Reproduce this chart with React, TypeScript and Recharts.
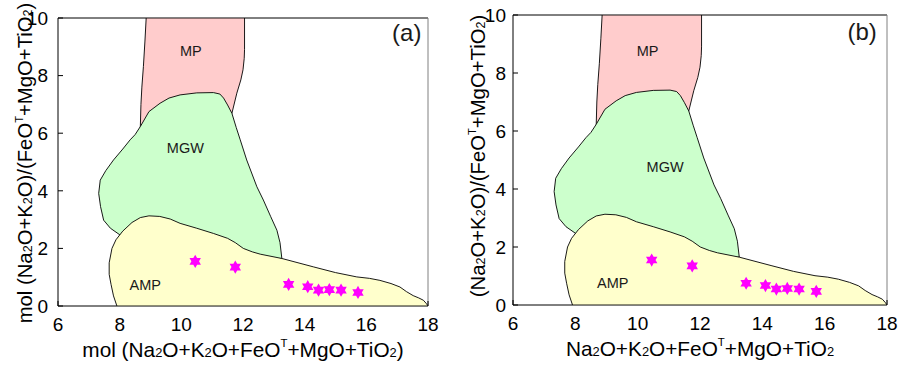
import React from 'react';
import { ScatterChart, Scatter, XAxis, YAxis, ReferenceLine } from 'recharts';

const xTicks = [6, 8, 10, 12, 14, 16, 18];
const yTicks = [0, 2, 4, 6, 8, 10];

// field outlines (x = oxide sum, y = alkali ratio)
const mpField = [
  { x: 8.86, y: 10 }, { x: 8.82, y: 9.2 }, { x: 8.77, y: 8.32 }, { x: 8.72, y: 7.6 },
  { x: 8.69, y: 7.0 }, { x: 8.67, y: 6.2 }, { x: 10.0, y: 6.2 }, { x: 11.5, y: 6.3 },
  { x: 11.64, y: 6.69 }, { x: 11.8, y: 7.39 }, { x: 11.93, y: 7.85 }, { x: 12.0, y: 8.2 },
  { x: 12.04, y: 8.6 }, { x: 12.05, y: 8.9 }, { x: 12.05, y: 10 },
];

const mgwField = [
  { x: 8.67, y: 6.23 }, { x: 8.95, y: 6.75 }, { x: 9.31, y: 7.04 }, { x: 9.6, y: 7.22 },
  { x: 9.96, y: 7.33 }, { x: 10.5, y: 7.4 }, { x: 11.04, y: 7.41 }, { x: 11.25, y: 7.36 },
  { x: 11.37, y: 7.22 }, { x: 11.5, y: 6.98 }, { x: 11.64, y: 6.69 }, { x: 11.78, y: 6.2 },
  { x: 11.91, y: 5.77 }, { x: 12.12, y: 5.07 }, { x: 12.45, y: 4.14 }, { x: 12.66, y: 3.68 },
  { x: 12.9, y: 3.1 }, { x: 13.1, y: 2.63 }, { x: 13.2, y: 2.2 }, { x: 13.26, y: 1.65 },
  { x: 11.0, y: 1.5 }, { x: 9.0, y: 2.0 }, { x: 8.02, y: 2.46 }, { x: 7.7, y: 2.7 },
  { x: 7.48, y: 2.98 }, { x: 7.38, y: 3.45 }, { x: 7.32, y: 3.91 }, { x: 7.37, y: 4.37 },
  { x: 7.55, y: 4.7 }, { x: 7.8, y: 5.07 }, { x: 8.1, y: 5.45 }, { x: 8.34, y: 5.77 },
  { x: 8.5, y: 5.95 },
];

const ampField = [
  { x: 7.91, y: 0 }, { x: 7.8, y: 0.35 }, { x: 7.72, y: 0.75 }, { x: 7.66, y: 1.1 },
  { x: 7.66, y: 1.5 }, { x: 7.75, y: 2.0 }, { x: 7.88, y: 2.3 }, { x: 8.1, y: 2.6 },
  { x: 8.4, y: 2.9 }, { x: 8.67, y: 3.07 }, { x: 8.95, y: 3.13 }, { x: 9.3, y: 3.11 },
  { x: 9.64, y: 3.02 }, { x: 9.96, y: 2.87 }, { x: 10.5, y: 2.7 }, { x: 11.04, y: 2.52 },
  { x: 11.5, y: 2.35 }, { x: 11.75, y: 2.2 }, { x: 12.01, y: 2.0 }, { x: 12.3, y: 1.88 },
  { x: 12.56, y: 1.8 }, { x: 13.26, y: 1.65 }, { x: 14.28, y: 1.36 }, { x: 15.0, y: 1.16 },
  { x: 15.69, y: 1.01 }, { x: 16.1, y: 0.96 }, { x: 16.44, y: 0.89 }, { x: 16.8, y: 0.78 },
  { x: 17.09, y: 0.66 }, { x: 17.3, y: 0.5 }, { x: 17.52, y: 0.36 }, { x: 17.7, y: 0.28 },
  { x: 17.85, y: 0.2 }, { x: 17.95, y: 0.08 }, { x: 18, y: 0 },
];

const samples = [
  { x: 10.45, y: 1.55 }, { x: 11.75, y: 1.35 }, { x: 13.48, y: 0.75 }, { x: 14.1, y: 0.67 },
  { x: 14.45, y: 0.55 }, { x: 14.8, y: 0.57 }, { x: 15.18, y: 0.55 }, { x: 15.73, y: 0.47 },
];

const fieldNamesA = [
  { x: 10.31, y: 8.84, name: 'MP' },
  { x: 10.13, y: 5.48, name: 'MGW' },
  { x: 8.83, y: 0.72, name: 'AMP' },
];
const fieldNamesB = [
  { x: 10.32, y: 8.77, name: 'MP' },
  { x: 10.88, y: 4.77, name: 'MGW' },
  { x: 9.2, y: 0.77, name: 'AMP' },
];
const tagA = [{ x: 17.31, y: 9.49, name: '(a)' }];
const tagB = [{ x: 17.2, y: 9.42, name: '(b)' }];

type Part = [string, string?];
const xTitleA: Part[] = [['mol (Na'], ['2', 'sub'], ['O+K'], ['2', 'sub'], ['O+FeO'], ['T', 'sup'], ['+MgO+TiO'], ['2', 'sub'], [')']];
const yTitleA: Part[] = [['mol (Na'], ['2', 'sub'], ['O+K'], ['2', 'sub'], ['O)/(FeO'], ['T', 'sup'], ['+MgO+TiO'], ['2', 'sub'], [')']];
const xTitleB: Part[] = [['Na'], ['2', 'sub'], ['O+K'], ['2', 'sub'], ['O+FeO'], ['T', 'sup'], ['+MgO+TiO'], ['2', 'sub']];
const yTitleB: Part[] = [['(Na'], ['2', 'sub'], ['O+K'], ['2', 'sub'], ['O)/(FeO'], ['T', 'sup'], ['+MgO+TiO'], ['2', 'sub'], [')']];

const FONT = '"Liberation Sans", Arial, sans-serif';

const chemSpans = (parts: Part[], size: number) => {
  let shift = 0;
  return parts.map(([t, k], i) => {
    const target = k === 'sub' ? size * 0.14 : k === 'sup' ? -size * 0.3 : 0;
    const dy = target - shift;
    shift = target;
    return (
      <tspan key={i} dy={dy} fontSize={k === 'sup' ? size * 0.55 : k ? size * 0.62 : size}>
        {t}
      </tspan>
    );
  });
};

const Hexagram = (props: any) => {
  const { cx, cy } = props;
  const R = 6.6;
  const r = R / Math.sqrt(3);
  const pts: string[] = [];
  for (let i = 0; i < 12; i++) {
    const a = (-90 + i * 30) * (Math.PI / 180);
    const rad = i % 2 === 0 ? R : r;
    pts.push(`${cx + rad * Math.cos(a)},${cy + rad * Math.sin(a)}`);
  }
  return <polygon points={pts.join(' ')} fill="#ff00ff" />;
};

const fieldText = (size: number) => (props: any) => (
  <text
    x={props.cx}
    y={props.cy}
    textAnchor="middle"
    dominantBaseline="central"
    fontSize={size}
    fontFamily={FONT}
    fill="#1a1a1a"
  >
    {props.payload?.name}
  </text>
);

const Nothing = () => <g />;

interface PanelProps {
  margin: { top: number; right: number; bottom: number; left: number };
  yAxisWidth: number;
  xAxisHeight: number;
  yTickMargin: number;
  yTitleX: number;
  yTitleDy: number;
  xTitle: Part[];
  yTitle: Part[];
  names: { x: number; y: number; name: string }[];
  tag: { x: number; y: number; name: string }[];
}

const Panel = (p: PanelProps) => {
  const tickStyle = { fill: '#000', fontSize: 19, fontFamily: FONT };
  return (
    <ScatterChart width={450} height={365} margin={p.margin}>
      <XAxis
        type="number"
        dataKey="x"
        domain={[6, 18]}
        ticks={xTicks}
        allowDataOverflow
        stroke="#000"
        tick={tickStyle}
        tickSize={-5}
        tickMargin={17}
        height={p.xAxisHeight}
        label={{
          content: (lp: any) => {
            const vb = lp.viewBox;
            const cx = vb.x + vb.width / 2;
            const cy = vb.y + 43;
            return (
              <text x={cx} y={cy} textAnchor="middle" dominantBaseline="central" fontFamily={FONT} fill="#000">
                {chemSpans(p.xTitle, 20.8)}
              </text>
            );
          },
        }}
      />
      <YAxis
        type="number"
        dataKey="y"
        domain={[0, 10]}
        ticks={yTicks}
        allowDataOverflow
        stroke="#000"
        tick={tickStyle}
        tickSize={-5}
        tickMargin={p.yTickMargin}
        width={p.yAxisWidth}
        label={{
          content: (lp: any) => {
            const vb = lp.viewBox;
            const cx = p.yTitleX;
            const cy = vb.y + vb.height / 2 + p.yTitleDy;
            return (
              <text
                x={cx}
                y={cy}
                transform={`rotate(-90 ${cx} ${cy})`}
                textAnchor="middle"
                dominantBaseline="central"
                fontFamily={FONT}
                fill="#000"
              >
                {chemSpans(p.yTitle, 20.3)}
              </text>
            );
          },
        }}
      />
      <Scatter
        data={mpField}
        fill="#ffcccc"
        line={{ stroke: '#000', strokeWidth: 0.9, fill: '#ffcccc' }}
        lineJointType="linearClosed"
        shape={Nothing}
        isAnimationActive={false}
      />
      <Scatter
        data={mgwField}
        fill="#ccffcc"
        line={{ stroke: '#000', strokeWidth: 0.9, fill: '#ccffcc' }}
        lineJointType="linearClosed"
        shape={Nothing}
        isAnimationActive={false}
      />
      <Scatter
        data={ampField}
        fill="#ffffcc"
        line={{ stroke: '#000', strokeWidth: 0.9, fill: '#ffffcc' }}
        lineJointType="linearClosed"
        shape={Nothing}
        isAnimationActive={false}
      />
      <Scatter data={p.names} shape={fieldText(14.5)} isAnimationActive={false} />
      <Scatter data={p.tag} shape={fieldText(24)} isAnimationActive={false} />
      <Scatter data={samples} shape={Hexagram} isAnimationActive={false} />
      <ReferenceLine y={10} stroke="#000" strokeWidth={1} />
      <ReferenceLine x={18} stroke="#808080" strokeWidth={1} />
    </ScatterChart>
  );
};

export default function App() {
  return (
    <div style={{ position: 'absolute', left: 0, top: 0, width: 900, height: 365, display: 'flex', background: '#fff' }}>
      <Panel
        margin={{ top: 18, right: 22, bottom: 0, left: 0 }}
        yAxisWidth={58}
        xAxisHeight={59}
        yTickMargin={15}
        yTitleX={25}
        yTitleDy={1}
        xTitle={xTitleA}
        yTitle={yTitleA}
        names={fieldNamesA}
        tag={tagA}
      />
      <Panel
        margin={{ top: 15, right: 13, bottom: 0, left: 0 }}
        yAxisWidth={63}
        xAxisHeight={60}
        yTickMargin={12}
        yTitleX={28}
        yTitleDy={-4}
        xTitle={xTitleB}
        yTitle={yTitleB}
        names={fieldNamesB}
        tag={tagB}
      />
    </div>
  );
}
